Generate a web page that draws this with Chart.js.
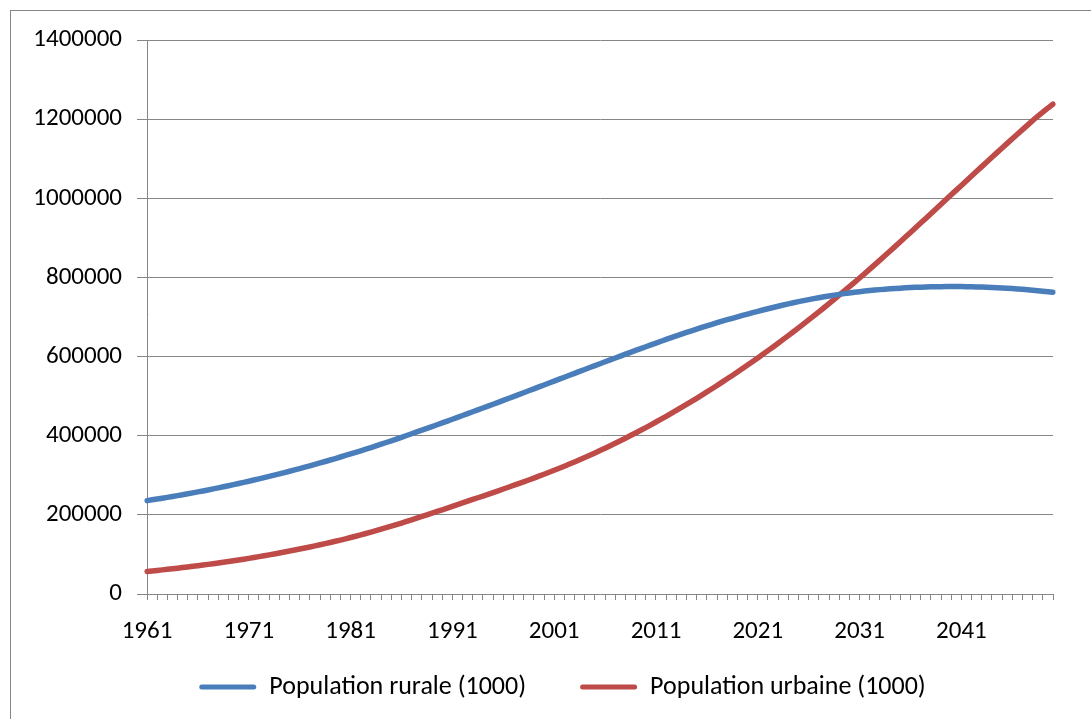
<!DOCTYPE html>
<html>
<head>
<meta charset="utf-8">
<script src="https://cdn.jsdelivr.net/npm/chart.js@4/dist/chart.umd.min.js"></script>
<style>
  html, body { margin:0; padding:0; background:#fff; }
  #wrap { position:relative; width:1091px; height:719px; }
</style>
</head>
<body>
<div id="wrap"><canvas id="popChart"></canvas></div>
<script>
/* ── Data ── */
const years = [];
for (let y = 1961; y <= 2050; y++) years.push(String(y));

const rurale = [
  236000, 240000, 244200, 248600, 253200, 258000, 263000, 268200, 273600, 279200,
  285000, 291000, 297200, 303600, 310200, 317000, 324000, 331200, 338600, 346200,
  354000, 362000, 370200, 378600, 387200, 396000, 405000, 414000, 423100, 432300,
  441600, 451000, 460500, 470000, 479600, 489200, 498900, 508600, 518400, 528200,
  538000, 547800, 557600, 567400, 577100, 586800, 596400, 606000, 615500, 624900,
  634200, 643300, 652200, 660900, 669400, 677600, 685500, 693100, 700400, 707400,
  714300, 720900, 727200, 733200, 738800, 744000, 748800, 753200, 757200, 760800,
  764000, 766800, 769200, 771200, 772900, 774300, 775400, 776200, 776700, 776900,
  776800, 776400, 775700, 774700, 773400, 771800, 769900, 767700, 765200, 762400,
];

const urbaine = [
    57000,   59600,   62400,   65300,   68300,   71500,   74900,   78400,   82100,   86000,
    90100,   94400,   98900,  103600,  108500,  113600,  118900,  124400,  130200,  136300,
   142700,  149400,  156400,  163700,  171300,  179200,  187400,  195900,  204300,  212800,
   221400,  230100,  238900,  247600,  256400,  265300,  274300,  283500,  292900,  302600,
   312600,  323000,  333800,  345000,  356600,  368600,  381000,  393800,  407000,  420600,
   434600,  449000,  463800,  479000,  494600,  510600,  527000,  543800,  561000,  578600,
   596600,  615000,  633800,  653000,  672600,  692600,  713000,  733800,  755000,  776600,
   798600,  821000,  843800,  866900,  890200,  913700,  937300,  961000,  984800, 1008700,
  1032500, 1056300, 1080000, 1103600, 1127100, 1150400, 1173500, 1196300, 1217500, 1238000,
];

const seriesLabels = ['Population rurale (1000)', 'Population urbaine (1000)'];

/* ── Palette ── */
const C = { blue:'#4a7ebb', red:'#be4b48', grid:'#868686', text:'#000000' };

Chart.defaults.font.family = "Carlito, Calibri, Lato, sans-serif";
Chart.defaults.font.size   = 25;
Chart.defaults.color       = C.text;

/* outer frame like the Excel chart border, legend nudged where Excel puts it */
const framePlugin = {
  id: 'frame',
  afterLayout(chart) {
    const lg = chart.legend;
    if (!lg) return;
    lg.left += 36;  lg.right  += 36;
    lg.top  -= 26;  lg.bottom -= 26;
  },
  beforeDraw(chart) {
    const c = chart.ctx;
    c.save();
    c.fillStyle = '#fff';
    c.fillRect(0, 0, chart.width, chart.height);
    c.strokeStyle = C.grid;
    c.lineWidth = 1;
    c.strokeRect(10.5, 10.5, chart.width + 20, chart.height + 20);
    c.restore();
  },
};

const lineBase = {
  borderWidth: 5.5, pointRadius: 0, pointHoverRadius: 0,
  tension: 0.3, fill: false, borderCapStyle: 'round', borderJoinStyle: 'round',
};

new Chart(document.getElementById('popChart'), {
  type: 'line',
  data: {
    labels: years,
    datasets: [
      { ...lineBase, label: seriesLabels[0], data: rurale,  borderColor: C.blue, backgroundColor: C.blue },
      { ...lineBase, label: seriesLabels[1], data: urbaine, borderColor: C.red,  backgroundColor: C.red  },
    ],
  },
  options: {
    responsive: true, maintainAspectRatio: false, animation: false,
    layout: { padding: { top: 40, right: 38, left: 0, bottom: -17 } },
    plugins: {
      tooltip: { enabled: false },
      legend: {
        position: 'bottom',
        labels: {
          boxWidth: 57, boxHeight: 5, padding: 54,
          font: { size: 26 },
          generateLabels: chart => chart.data.datasets.map((d, i) => ({
            text: d.label, fillStyle: d.borderColor, strokeStyle: d.borderColor,
            lineWidth: 0, borderRadius: 2.5, datasetIndex: i, hidden: false,
          })),
        },
      },
    },
    scales: {
      x: {
        offset: false,
        afterFit: s => { s.height = 52; },
        grid:   { drawOnChartArea: false, drawTicks: true, tickLength: 6, color: C.grid },
        border: { color: C.grid, width: 1 },
        ticks: {
          autoSkip: false, maxRotation: 0, minRotation: 0, padding: 17,
          callback: (v, i) => (i % 10 === 0 ? years[i] : ''),
        },
      },
      y: {
        min: 0, max: 1400000,
        afterFit: s => { s.width = 147; },
        grid:   { color: C.grid, lineWidth: 1, tickLength: 10 },
        border: { color: C.grid, width: 1 },
        ticks:  { stepSize: 200000, padding: 15, callback: v => String(v) },
      },
    },
  },
  plugins: [framePlugin],
});
</script>
</body>
</html>
